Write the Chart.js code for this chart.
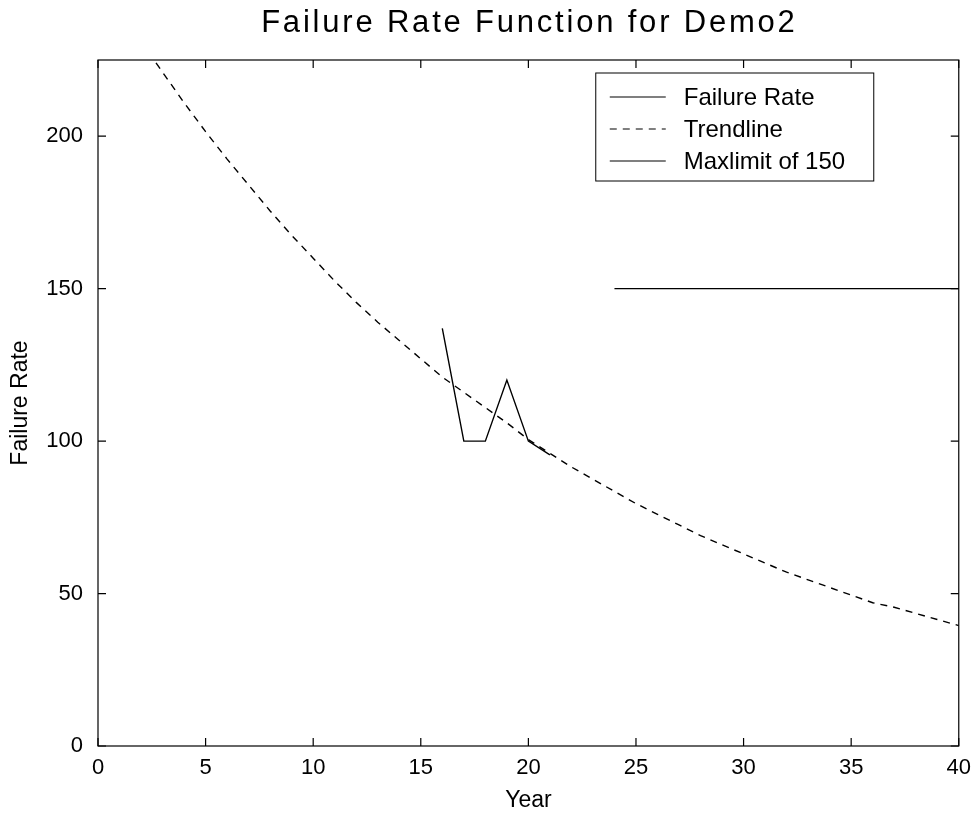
<!DOCTYPE html>
<html>
<head>
<meta charset="utf-8">
<title>Failure Rate Function for Demo2</title>
<script src="https://cdn.jsdelivr.net/npm/chart.js@4/dist/chart.umd.min.js"></script>
<style>
  html, body { margin: 0; padding: 0; background: #fff; }
  canvas { display: block; }
</style>
</head>
<body>
<canvas id="failureChart" width="980" height="817"></canvas>
<script>
// Chart data
const failureYears = [16, 17, 18, 19, 20, 21];
const failureRates = [137, 100, 100, 120, 100, 95.5];

const trendYears = [2, 3, 4, 5, 6, 7, 8, 9, 10, 11, 12, 13, 14, 15, 16, 17, 18, 19, 20, 21,
  22, 23, 24, 25, 26, 27, 28, 29, 30, 31, 32, 33, 34, 35, 36, 37, 38, 39, 40];
const trendValues = [231, 221, 211, 201.5, 192.5, 184, 175.5, 167.5, 160, 152.5, 145.5, 139, 133, 127, 121, 116, 111, 106, 100.5, 96,
  91.5, 87.5, 83.5, 79.5, 76, 72.5, 69, 66, 63, 60, 57, 54.5, 52, 49.5, 47, 45.5, 43.5, 41.5, 39.5];

const limitYears = [24, 40];
const limitValues = [150, 150];

const xTicks = [0, 5, 10, 15, 20, 25, 30, 35, 40];
const yTicks = [0, 50, 100, 150, 200];

const chartTitle = 'Failure Rate Function for Demo2';
const FONT = "'Liberation Sans', Arial, Helvetica, sans-serif";

// Build {x, y} points from the arrays
function toPoints(xs, ys) {
  return xs.map((x, i) => ({ x: x, y: ys[i] }));
}

// Title centred over the plot area
const titlePlugin = {
  id: 'plotTitle',
  afterDraw(chart) {
    const { ctx, chartArea } = chart;
    ctx.save();
    ctx.fillStyle = '#000';
    ctx.font = '31px ' + FONT;
    ctx.letterSpacing = '2.8px';
    ctx.textAlign = 'center';
    ctx.textBaseline = 'middle';
    ctx.fillText(chartTitle, (chartArea.left + chartArea.right) / 2 + 1, 23);
    ctx.restore();
  }
};

// Box round the axes with inward ticks on all four sides
const framePlugin = {
  id: 'axesFrame',
  afterDatasetsDraw(chart) {
    const { ctx, chartArea, scales } = chart;
    const len = 8;
    ctx.save();
    ctx.strokeStyle = '#000';
    ctx.lineWidth = 1.2;
    ctx.strokeRect(chartArea.left, chartArea.top, chartArea.right - chartArea.left, chartArea.bottom - chartArea.top);
    ctx.beginPath();
    xTicks.forEach(v => {
      const px = scales.x.getPixelForValue(v);
      ctx.moveTo(px, chartArea.bottom);
      ctx.lineTo(px, chartArea.bottom - len);
      ctx.moveTo(px, chartArea.top);
      ctx.lineTo(px, chartArea.top + len);
    });
    yTicks.forEach(v => {
      const py = scales.y.getPixelForValue(v);
      ctx.moveTo(chartArea.left, py);
      ctx.lineTo(chartArea.left + len, py);
      ctx.moveTo(chartArea.right, py);
      ctx.lineTo(chartArea.right - len, py);
    });
    ctx.stroke();
    ctx.restore();
  }
};

// MATLAB-style legend box in the upper right of the plot
const legendPlugin = {
  id: 'boxLegend',
  afterDraw(chart) {
    const { ctx, chartArea } = chart;
    const boxW = 278, boxH = 108;
    const left = chartArea.right - 85 - boxW;
    const top = chartArea.top + 13;
    ctx.save();
    ctx.fillStyle = '#fff';
    ctx.fillRect(left, top, boxW, boxH);
    ctx.strokeStyle = '#000';
    ctx.lineWidth = 1;
    ctx.strokeRect(left, top, boxW, boxH);
    ctx.font = '24px ' + FONT;
    ctx.textBaseline = 'middle';
    ctx.textAlign = 'left';
    chart.data.datasets.forEach((ds, i) => {
      const y = top + 24 + i * 32;
      ctx.beginPath();
      ctx.setLineDash(ds.borderDash || []);
      ctx.lineWidth = 1.2;
      ctx.moveTo(left + 14, y);
      ctx.lineTo(left + 70, y);
      ctx.stroke();
      ctx.setLineDash([]);
      ctx.fillStyle = '#000';
      ctx.fillText(ds.label, left + 88, y + 1);
    });
    ctx.restore();
  }
};

const config = {
  type: 'line',
  data: {
    datasets: [{
      label: 'Failure Rate',
      data: toPoints(failureYears, failureRates),
      borderColor: '#000',
      borderWidth: 1.4,
      pointRadius: 0,
      tension: 0,
      fill: false
    }, {
      label: 'Trendline',
      data: toPoints(trendYears, trendValues),
      borderColor: '#000',
      borderWidth: 1.4,
      borderDash: [7, 6],
      pointRadius: 0,
      tension: 0,
      fill: false
    }, {
      label: 'Maxlimit of 150',
      data: toPoints(limitYears, limitValues),
      borderColor: '#000',
      borderWidth: 1.4,
      pointRadius: 0,
      tension: 0,
      fill: false
    }]
  },
  options: {
    responsive: false,
    animation: false,
    layout: { padding: { left: 0, right: 19, top: 60, bottom: 0 } },
    plugins: {
      legend: { display: false },
      title: { display: false },
      tooltip: { enabled: false }
    },
    scales: {
      x: {
        type: 'linear',
        min: 0,
        max: 40,
        grid: { display: false, drawTicks: false },
        border: { display: false },
        afterBuildTicks: scale => { scale.ticks = xTicks.map(v => ({ value: v })); },
        afterFit: scale => { scale.height = 71; },
        ticks: {
          color: '#000',
          padding: 9,
          maxRotation: 0,
          font: { family: FONT, size: 22 }
        },
        title: {
          display: true,
          text: 'Year',
          color: '#000',
          font: { family: FONT, size: 23 },
          padding: { top: 0, bottom: 3 }
        }
      },
      y: {
        type: 'linear',
        min: 0,
        max: 225,
        grid: { display: false, drawTicks: false },
        border: { display: false },
        afterBuildTicks: scale => { scale.ticks = yTicks.map(v => ({ value: v })); },
        afterFit: scale => { scale.width = 98; },
        ticks: {
          color: '#000',
          padding: 15,
          font: { family: FONT, size: 22 }
        },
        title: {
          display: true,
          text: 'Failure Rate',
          color: '#000',
          font: { family: FONT, size: 23 },
          padding: { top: 7, bottom: 0 }
        }
      }
    }
  },
  plugins: [titlePlugin, framePlugin, legendPlugin]
};

document.addEventListener('DOMContentLoaded', function () {
  const ctx = document.getElementById('failureChart').getContext('2d');
  window.failureChart = new Chart(ctx, config);
});
</script>
</body>
</html>
